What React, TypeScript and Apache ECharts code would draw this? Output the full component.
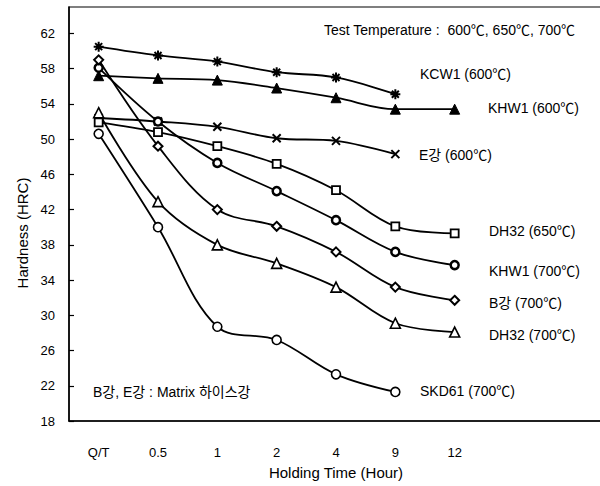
import React, { useEffect, useRef } from "react";
import * as echarts from "echarts";

const categories = ["Q/T", "0.5", "1", "2", "4", "9", "12", "", ""];
const yTicks = { min: 18, max: 65, interval: 4 };

const kcw1_600 = [60.5, 59.5, 58.8, 57.6, 57.0, 55.1, null, null, null];
const khw1_600 = [57.2, 56.9, 56.7, 55.8, 54.7, 53.4, 53.4, null, null];
const e_600 = [52.4, 52.0, 51.4, 50.1, 49.8, 48.3, null, null, null];
const dh32_650 = [51.9, 50.8, 49.2, 47.2, 44.2, 40.1, 39.3, null, null];
const khw1_700 = [58.1, 52.0, 47.3, 44.1, 40.8, 37.2, 35.7, null, null];
const b_700 = [59.0, 49.2, 42.0, 40.1, 37.2, 33.2, 31.7, null, null];
const dh32_700 = [53.0, 42.9, 38.0, 35.9, 33.2, 29.1, 28.1, null, null];
const skd61_700 = [50.6, 40.0, 28.7, 27.2, 23.3, 21.3, null, null, null];

const FONT = "'Liberation Sans', Arial, 'Noto Sans CJK KR', sans-serif";

const ASTERISK = "path://M5,0 L5,10 M0,5 L10,5 M1.5,1.5 L8.5,8.5 M8.5,1.5 L1.5,8.5";
const CROSS = "path://M0,0 L10,10 M10,0 L0,10";

type SeriesDef = {
  name: string;
  data: (number | null)[];
  symbol: string;
  size: number;
  fill: string;
  bw: number;
};

const seriesDefs: SeriesDef[] = [
  { name: "KCW1 (600℃)", data: kcw1_600, symbol: ASTERISK, size: 10, fill: "#000", bw: 2 },
  { name: "KHW1 (600℃)", data: khw1_600, symbol: "triangle", size: 10, fill: "#000", bw: 1 },
  { name: "E강 (600℃)", data: e_600, symbol: CROSS, size: 8, fill: "#000", bw: 2 },
  { name: "DH32 (650℃)", data: dh32_650, symbol: "rect", size: 8, fill: "#fff", bw: 1.8 },
  { name: "KHW1 (700℃)", data: khw1_700, symbol: "circle", size: 8, fill: "#fff", bw: 2.5 },
  { name: "B강 (700℃)", data: b_700, symbol: "diamond", size: 9, fill: "#fff", bw: 2 },
  { name: "DH32 (700℃)", data: dh32_700, symbol: "triangle", size: 10, fill: "#fff", bw: 1.6 },
  { name: "SKD61 (700℃)", data: skd61_700, symbol: "circle", size: 9, fill: "#fff", bw: 1.6 },
];

const labels: { text: string; x: number; y: number }[] = [
  { text: "Test Temperature :  600℃, 650℃, 700℃", x: 324, y: 31 },
  { text: "KCW1 (600℃)", x: 420, y: 75 },
  { text: "KHW1 (600℃)", x: 488, y: 109 },
  { text: "E강 (600℃)", x: 419, y: 156 },
  { text: "DH32 (650℃)", x: 489, y: 232 },
  { text: "KHW1 (700℃)", x: 489, y: 272 },
  { text: "B강 (700℃)", x: 489, y: 304 },
  { text: "DH32 (700℃)", x: 489, y: 336 },
  { text: "SKD61 (700℃)", x: 420, y: 392 },
  { text: "B강, E강 : Matrix 하이스강", x: 93, y: 393 },
];

export default function App() {
  const ref = useRef<HTMLDivElement>(null);
  useEffect(() => {
    if (!ref.current) return;
    const chart = echarts.init(ref.current, null, { renderer: "svg" });
    chart.setOption({
      animation: false,
      backgroundColor: "#fff",
      textStyle: { fontFamily: FONT, color: "#000" },
      grid: {
        left: 69,
        right: -3,
        top: 7,
        bottom: 65,
        containLabel: false,
        outerBoundsMode: "none",
        show: true,
        borderColor: "#000",
        borderWidth: 1.2,
        backgroundColor: "transparent",
      },
      xAxis: {
        type: "category",
        data: categories,
        boundaryGap: true,
        name: "Holding Time (Hour)",
        nameLocation: "middle",
        nameGap: 44,
        nameTextStyle: { fontSize: 15, color: "#000", fontFamily: FONT },
        axisLine: { lineStyle: { color: "#000", width: 1.5 } },
        axisTick: { inside: true, length: 5, interval: 0, lineStyle: { color: "#000", width: 1.2 } },
        axisLabel: { interval: 0, margin: 25, fontSize: 13, color: "#000", fontFamily: FONT },
        splitLine: { show: false },
      },
      yAxis: {
        type: "value",
        min: yTicks.min,
        max: yTicks.max,
        interval: yTicks.interval,
        axisLine: { show: true, lineStyle: { color: "#000", width: 1.5 } },
        axisTick: { show: true, inside: true, length: 5, lineStyle: { color: "#000", width: 1.2 } },
        axisLabel: { showMaxLabel: false, margin: 14, fontSize: 13, color: "#000", fontFamily: FONT },
        splitLine: { show: false },
      },
      series: seriesDefs.map((s) => ({
        type: "line",
        name: s.name,
        data: s.data,
        smooth: 0.35,
        connectNulls: false,
        symbol: s.symbol,
        symbolSize: s.size,
        showAllSymbol: true,
        lineStyle: { color: "#000", width: 1.8 },
        itemStyle: { color: s.fill, borderColor: "#000", borderWidth: s.bw },
        z: 3,
      })),
      graphic: [
        ...labels.map((l) => ({
          type: "text",
          left: l.x,
          top: l.y - 8,
          style: {
            text: l.text,
            fill: "#000",
            font: `14px ${FONT}`,
          },
          z: 10,
        })),
        {
          type: "text",
          x: 22,
          y: 233,
          rotation: Math.PI / 2,
          style: {
            text: "Hardness (HRC)",
            fill: "#000",
            font: `15px ${FONT}`,
            align: "center",
            verticalAlign: "middle",
          },
          z: 10,
        },
      ],
    });
    return () => chart.dispose();
  }, []);
  return (
    <div
      ref={ref}
      style={{ position: "fixed", left: 0, top: 0, width: 600, height: 486, background: "#fff" }}
    />
  );
}
